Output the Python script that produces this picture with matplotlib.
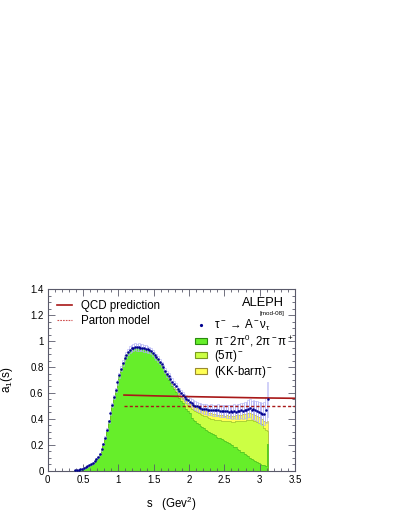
import numpy as np
import matplotlib
matplotlib.use("Agg")
import matplotlib.pyplot as plt
from matplotlib.lines import Line2D
from matplotlib.patches import Patch

plt.rcParams['font.family'] = ['Liberation Sans', 'DejaVu Sans']
plt.rcParams['mathtext.fontset'] = 'custom'
plt.rcParams['mathtext.rm'] = 'Liberation Sans'
plt.rcParams['mathtext.it'] = 'Liberation Sans:italic'
plt.rcParams['mathtext.default'] = 'regular'

# binning of the spectral function (GeV^2)
bin_width = 0.025
s_first_edge = 0.375

# total a1(s), one value per bin
a1_total = [
    0.003, 0.005, 0.008, 0.012, 0.016, 0.021, 0.027, 0.034, 0.042, 0.050,
    0.060, 0.072, 0.088, 0.107, 0.132, 0.165, 0.205, 0.255, 0.315, 0.380,
    0.445, 0.510, 0.568, 0.625, 0.683, 0.738, 0.788, 0.832, 0.868, 0.896,
    0.918, 0.934, 0.944, 0.950, 0.955, 0.951, 0.955, 0.948, 0.950, 0.944,
    0.941, 0.936, 0.930, 0.921, 0.910, 0.896, 0.880, 0.862, 0.842, 0.820,
    0.797, 0.773, 0.750, 0.728, 0.707, 0.688, 0.669, 0.650, 0.632, 0.614,
    0.597, 0.582, 0.567, 0.554, 0.542, 0.530, 0.520, 0.511, 0.503, 0.496,
    0.490, 0.485, 0.480, 0.476, 0.474, 0.471, 0.469, 0.472, 0.466, 0.468,
    0.465, 0.467, 0.462, 0.464, 0.460, 0.462, 0.458, 0.456, 0.459, 0.455,
    0.460, 0.457, 0.462, 0.458, 0.466, 0.461, 0.470, 0.465, 0.478, 0.482,
    0.470, 0.474, 0.466, 0.460, 0.452, 0.445, 0.436, 0.440, 0.470, 0.552]

a1_err = [
    0.004, 0.004, 0.004, 0.005, 0.005, 0.005, 0.005, 0.006, 0.006, 0.006,
    0.006, 0.007, 0.007, 0.008, 0.008, 0.009, 0.010, 0.011, 0.012, 0.013,
    0.014, 0.015, 0.016, 0.017, 0.018, 0.019, 0.020, 0.021, 0.022, 0.023,
    0.024, 0.025, 0.026, 0.026, 0.027, 0.027, 0.028, 0.027, 0.027, 0.026,
    0.026, 0.025, 0.025, 0.024, 0.024, 0.023, 0.023, 0.022, 0.022, 0.022,
    0.022, 0.022, 0.023, 0.023, 0.023, 0.024, 0.024, 0.025, 0.025, 0.026,
    0.026, 0.027, 0.028, 0.028, 0.029, 0.030, 0.031, 0.032, 0.032, 0.033,
    0.034, 0.035, 0.036, 0.037, 0.038, 0.039, 0.040, 0.041, 0.042, 0.043,
    0.044, 0.045, 0.046, 0.046, 0.047, 0.048, 0.049, 0.050, 0.051, 0.052,
    0.053, 0.054, 0.055, 0.057, 0.058, 0.060, 0.062, 0.064, 0.066, 0.068,
    0.070, 0.072, 0.075, 0.078, 0.080, 0.083, 0.086, 0.090, 0.100, 0.135]

# pi- 2pi0 , 2pi- pi+ contribution
three_pi = a1_total[:47] + [
    0.855, 0.833, 0.808, 0.782, 0.755, 0.728, 0.703, 0.678, 0.654, 0.630,
    0.606, 0.584, 0.562, 0.540, 0.519, 0.499, 0.480, 0.462, 0.445,
    0.410, 0.395, 0.382, 0.370, 0.358, 0.347, 0.337, 0.327, 0.318, 0.309,
    0.300, 0.292, 0.284, 0.276,
    0.262, 0.256, 0.251, 0.242, 0.235, 0.226, 0.220, 0.212, 0.206, 0.196,
    0.186, 0.180, 0.168, 0.160, 0.148, 0.141, 0.131, 0.124, 0.112, 0.100,
    0.092, 0.083, 0.075, 0.068, 0.061, 0.054, 0.047, 0.042, 0.036, 0.210]

# the other modes only start above s = 1.55
s_split_edge = 1.55
five_pi = [
    0.002, 0.003, 0.004, 0.005, 0.007, 0.009, 0.011, 0.013, 0.016, 0.019,
    0.022, 0.025, 0.028, 0.031, 0.034, 0.037, 0.040, 0.043, 0.046,
    0.068, 0.073, 0.077, 0.081, 0.085, 0.089, 0.093, 0.097, 0.101, 0.104,
    0.107, 0.110, 0.114, 0.118,
    0.128, 0.134, 0.138, 0.144, 0.150, 0.155, 0.162, 0.168, 0.174, 0.183,
    0.192, 0.202, 0.212, 0.222, 0.233, 0.244, 0.256, 0.266, 0.278, 0.290,
    0.296, 0.302, 0.306, 0.308, 0.309, 0.312, 0.310, 0.290, 0.280, 0.100]
kkbar_pi = [
    0, 0, 0, 0, 0, 0, 0, 0, 0, 0, 0,
    0.003, 0.006, 0.009, 0.012, 0.015, 0.018, 0.021, 0.024,
    0.027, 0.030, 0.032, 0.034, 0.035, 0.036, 0.037, 0.038, 0.039, 0.040,
    0.041, 0.040, 0.042, 0.041,
    0.043, 0.042, 0.044, 0.043, 0.045, 0.044, 0.046, 0.045, 0.047, 0.046,
    0.048, 0.047, 0.049, 0.048, 0.050, 0.049, 0.051, 0.050, 0.053, 0.055,
    0.052, 0.054, 0.051, 0.050, 0.048, 0.047, 0.045, 0.050, 0.060, 0.070]

qcd_s = [1.08, 1.5, 2.0, 2.5, 3.0, 3.5]
qcd_a1 = [0.584, 0.578, 0.572, 0.567, 0.562, 0.559]
parton_s = [1.08, 3.5]
parton_a1 = [0.5, 0.5]

x_ticks = [0, 0.5, 1, 1.5, 2, 2.5, 3, 3.5]
x_ticklabels = ['0', '0.5', '1', '1.5', '2', '2.5', '3', '3.5']
y_ticks = [0, 0.2, 0.4, 0.6, 0.8, 1.0, 1.2, 1.4]
y_ticklabels = ['0', '0.2', '0.4', '0.6', '0.8', '1', '1.2', '1.4']

total = np.array(a1_total)
err = np.array(a1_err)
edges = s_first_edge + bin_width * np.arange(len(total) + 1)
centers = 0.5 * (edges[:-1] + edges[1:])
n_front = int(round((s_split_edge - s_first_edge) / bin_width))
green_top = np.array(three_pi)
five_top = green_top + np.concatenate([np.zeros(n_front), five_pi])
kk_top = five_top + np.concatenate([np.zeros(n_front), kkbar_pi])

c_green = '#66ee2a'
c_lgreen = '#ccff44'
c_yellow = '#ffff55'
c_red = '#a81818'
c_blue = '#00008f'
c_frame = '#5a5a6a'

fig = plt.figure(figsize=(4.07, 5.27), dpi=100)
ax = fig.add_axes([0.1172, 0.1068, 0.6076, 0.3442])

ax.stairs(kk_top, edges, baseline=five_top, fill=True, facecolor=c_yellow,
          edgecolor='none', zorder=1)
ax.stairs(five_top, edges, baseline=green_top, fill=True, facecolor=c_lgreen,
          edgecolor='none', zorder=1)
ax.stairs(green_top, edges, baseline=0, fill=True, facecolor=c_green,
          edgecolor='none', zorder=1)
ax.stairs(kk_top, edges, color='#c8c040', lw=0.5, zorder=2)
ax.stairs(five_top, edges, color='#a0c030', lw=0.5, zorder=2)
ax.stairs(green_top, edges, color='#50c020', lw=0.5, zorder=2)

# error boxes
ax.bar(centers, 2 * err, bottom=total - err, width=bin_width, fill=False,
       edgecolor='#aeaef4', linewidth=0.4, zorder=3)

ax.plot(qcd_s, qcd_a1, color=c_red, lw=1.2, zorder=4)
ax.plot(parton_s, parton_a1, color=c_red, lw=1.0, ls=(0, (2.2, 1.6)), zorder=4)
ax.plot(centers, total, 'o', ms=1.8, color=c_blue, mec='none', zorder=5)

ax.set_xlim(0, 3.5)
ax.set_ylim(0, 1.4)
ax.set_xticks(x_ticks)
ax.set_xticklabels(x_ticklabels)
ax.set_yticks(y_ticks)
ax.set_yticklabels(y_ticklabels)
ax.set_xticks(np.arange(0, 3.51, 0.1), minor=True)
ax.set_yticks(np.arange(0, 1.41, 0.05), minor=True)
ax.tick_params(which='both', direction='in', top=True, right=True,
               color=c_frame, width=0.6, labelsize=7)
ax.tick_params(which='major', length=5, pad=3)
ax.tick_params(which='minor', length=2.5)
for sp in ax.spines.values():
    sp.set_color(c_frame)
    sp.set_linewidth(0.8)

ax.set_xlabel('s   (Gev$^2$)', fontsize=8.3, labelpad=7)
ax.set_ylabel('a$_1$(s)', fontsize=8.5, labelpad=11)

h_qcd = Line2D([], [], color=c_red, lw=1.2)
h_parton = Line2D([], [], color='#d05050', lw=0.8, ls=(0, (1.5, 1.0)))
leg1 = ax.legend([h_qcd, h_parton], ['QCD prediction', 'Parton model'],
                 loc='upper left', bbox_to_anchor=(0.036, 0.942),
                 frameon=False, fontsize=8.3, handlelength=1.3,
                 handletextpad=0.8, labelspacing=0.3, borderpad=0,
                 borderaxespad=0)
ax.add_artist(leg1)

h_tau = Line2D([], [], ls='none', marker='o', ms=2.3, color=c_blue, mec='none')
h_g = Patch(facecolor=c_green, edgecolor='#2a8a10', lw=0.8)
h_lg = Patch(facecolor=c_lgreen, edgecolor='#7a9a20', lw=0.8)
h_y = Patch(facecolor=c_yellow, edgecolor='#9a8a30', lw=0.8)
ax.legend([h_tau, h_g, h_lg, h_y],
          [r'τ$^-$ → A$^-$ν$_τ$', r'$\pi^-2\pi^0$, $2\pi^-\pi^+$',
           r'$(5\pi)^-$', r'(KK-bar$\pi)^-$'],
          loc='upper left', bbox_to_anchor=(0.596, 0.845),
          frameon=False, fontsize=8.3, handlelength=1.0, handleheight=0.5,
          handletextpad=0.6, labelspacing=-0.02, borderpad=0, borderaxespad=0)

ax.text(0.9555, 0.923, 'ALEPH', transform=ax.transAxes, ha='right',
        va='center', fontsize=9.3)
ax.text(0.9555, 0.865, '[mod-08]', transform=ax.transAxes, ha='right',
        va='center', fontsize=4.5)

fig.savefig('out.png', dpi=100, facecolor='white')
